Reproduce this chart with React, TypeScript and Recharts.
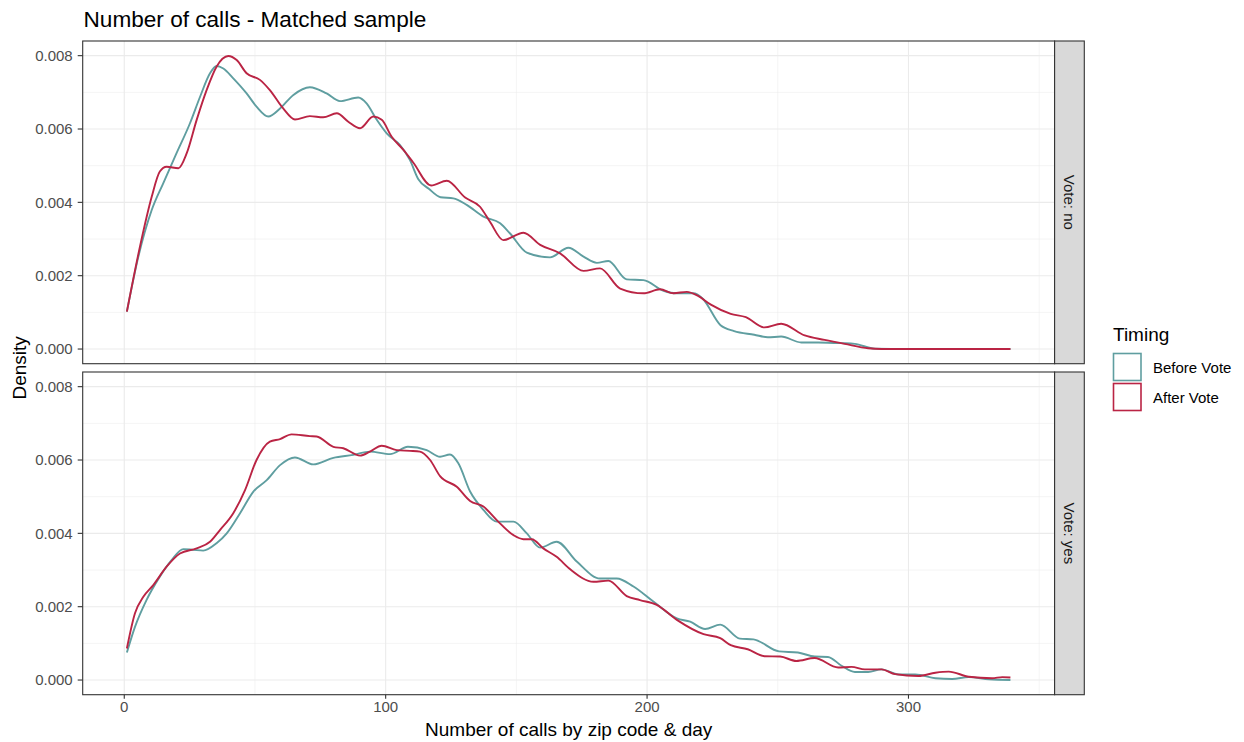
import React from "react";
import { LineChart, Line, XAxis, YAxis, CartesianGrid } from "recharts";

// ---------- data ----------
const xTicks = [0, 100, 200, 300];
const xMinor = [50, 150, 250, 350];
const yTicks = [0, 0.002, 0.004, 0.006, 0.008];
const yMinor = [0.001, 0.003, 0.005, 0.007];
const facetLabels = ["Vote: no", "Vote: yes"];
const seriesNames = ["Before Vote", "After Vote"];

const noBefore: [number, number][] = [
  [1, 0.00102], [5.4, 0.00252], [10.5, 0.00379], [14.9, 0.00452], [20, 0.00534], [25.1, 0.00615],
  [29, 0.00688], [32.8, 0.00752], [35.3, 0.00772], [37.9, 0.00765], [41.7, 0.00738], [46.8, 0.00697],
  [50.6, 0.00661], [55.1, 0.00634], [59.6, 0.00656], [64.7, 0.00693], [71, 0.00714], [77.4, 0.00697],
  [82.5, 0.00676], [89.5, 0.00686], [92.7, 0.0067], [96.6, 0.00625], [100.4, 0.00588], [105.5, 0.00556],
  [109.3, 0.00515], [112.5, 0.00463], [116.5, 0.00437], [121, 0.00414], [125.9, 0.00411], [131, 0.00393],
  [137.4, 0.00361], [143.8, 0.00343], [147.6, 0.00315], [154, 0.00263], [162.9, 0.0025], [169.9, 0.00276],
  [175.7, 0.00252], [180.8, 0.00235], [185.2, 0.0024], [192.2, 0.0019], [198.6, 0.00188], [206.3, 0.00159],
  [211.4, 0.00152], [217.7, 0.00152], [221.2, 0.00138], [228.1, 0.00065], [233.3, 0.00049], [241, 0.00039],
  [246.2, 0.00032], [251.3, 0.00034], [259, 0.00018], [265.4, 0.00018], [274.4, 0.00016], [279.5, 0.00014],
  [287.2, 0.00001], [300, 0], [320, 0], [339, 0],
];

const noAfter: [number, number][] = [
  [1, 0.00102], [6, 0.00279], [10.5, 0.00415], [13.6, 0.00484], [16.2, 0.00497], [20.7, 0.00493],
  [23.9, 0.00534], [27.7, 0.00625], [31.5, 0.00706], [35.3, 0.0077], [39.8, 0.00799], [43, 0.00788],
  [46.8, 0.00752], [51.9, 0.00734], [55.7, 0.00706], [60.8, 0.00656], [65.3, 0.00626], [71, 0.00635],
  [76.1, 0.00632], [81.3, 0.00643], [85.7, 0.0062], [90.2, 0.00602], [95.3, 0.00634], [98.5, 0.00625],
  [102.3, 0.00579], [106.8, 0.00543], [110.6, 0.00508], [117.4, 0.00446], [123.4, 0.00459], [130.4, 0.00413],
  [136.1, 0.00388], [139.9, 0.00347], [145, 0.00297], [152.7, 0.00317], [159.1, 0.00284], [166.7, 0.00261],
  [175.7, 0.00213], [182, 0.0022], [189.7, 0.00165], [198.6, 0.00152], [205, 0.00163], [210.1, 0.00152],
  [215.2, 0.00156], [219.5, 0.00145], [224.4, 0.00121], [232, 0.00096], [237.8, 0.00087], [244.9, 0.00059],
  [251.3, 0.00069], [260.3, 0.00037], [267.9, 0.00025], [275.6, 0.00014], [284.6, 0.00002], [289.7, 0],
  [310, 0], [339, 0],
];

const yesBefore: [number, number][] = [
  [1, 0.00075], [4.1, 0.00145], [8.5, 0.00218], [13.6, 0.00282], [18.1, 0.00327], [22.6, 0.00357],
  [26.4, 0.00355], [30.2, 0.00353], [35.3, 0.00373], [39.2, 0.004], [44.3, 0.00455], [49.4, 0.00514],
  [54.5, 0.00545], [59.6, 0.00586], [65.3, 0.00607], [72.3, 0.00588], [80, 0.00606], [87.6, 0.00614],
  [94, 0.00623], [101.7, 0.00616], [108.5, 0.00636], [115.7, 0.00627], [120.8, 0.00609], [124.6, 0.00615],
  [127.8, 0.00591], [132.3, 0.00514], [137.4, 0.00464], [142.5, 0.00432], [148.9, 0.00432], [154, 0.004],
  [159.1, 0.00361], [165.4, 0.00377], [173.1, 0.00323], [182, 0.00277], [188.4, 0.00277], [194.8, 0.00255],
  [202.4, 0.00214], [211.4, 0.00168], [216.5, 0.00159], [222.2, 0.00139], [228, 0.00151], [235.5, 0.00113],
  [240.7, 0.00111], [250.5, 0.00078], [257.7, 0.00075], [264.1, 0.00064], [269.2, 0.00063], [274.4, 0.00039],
  [279.5, 0.00022], [284.6, 0.00022], [289.7, 0.00029], [296.2, 0.00015], [302.6, 0.00015], [310.3, 0.00005],
  [316.7, 0.00003], [323.1, 0.00008], [330.8, 0.00002], [339, 0],
];

const yesAfter: [number, number][] = [
  [1, 0.00086], [4.1, 0.00182], [7.3, 0.00227], [11.1, 0.00259], [16.2, 0.00309], [21.3, 0.00345],
  [27.7, 0.00359], [32.8, 0.00377], [36.6, 0.00409], [41.7, 0.00455], [46.2, 0.00518], [50.6, 0.006],
  [55.7, 0.0065], [59.6, 0.00657], [64, 0.0067], [71, 0.00665], [73.6, 0.00664], [80, 0.00636],
  [83.8, 0.00632], [90.2, 0.00612], [94, 0.00623], [98.5, 0.00639], [104.2, 0.00627], [109.3, 0.00625],
  [113.1, 0.00623], [117, 0.006], [120.8, 0.00556], [127.2, 0.00527], [132.3, 0.00488], [137.4, 0.00473],
  [142.5, 0.00436], [148.9, 0.00395], [152.7, 0.00384], [155.9, 0.00384], [160.3, 0.00359], [165.4, 0.00336],
  [170.6, 0.00302], [179.5, 0.00268], [185.2, 0.00271], [192.2, 0.00229], [197.3, 0.00218], [203.7, 0.00205],
  [211.4, 0.00164], [221.6, 0.00125], [228, 0.00114], [232, 0.00095], [238.5, 0.00084], [244.9, 0.00065],
  [250.9, 0.00064], [257.1, 0.00052], [264.1, 0.0006], [273.1, 0.00034], [278.2, 0.00036], [283.3, 0.00029],
  [289.7, 0.00029], [294.9, 0.00016], [303.8, 0.00011], [310.3, 0.0002], [315.4, 0.00023], [323.1, 0.00009],
  [332, 0.00005], [335.9, 0.00008], [339, 0.00007],
];

// ---------- style / layout ----------
const W = 1244;
const H = 742;
const FONT = "'Liberation Sans', Arial, Helvetica, sans-serif";
const TEAL = "#5F9EA0";
const RED = "#BA2444";
const PL = 82.7;
const PR = 1054.6;
const PH = 322.7;
const TOPS = [41, 372];
const STRIP_W = 29.7;
const YW = 60;
const XH = 40;
const X_DOMAIN: [number, number] = [-15.9, 355.9];
const Y_DOMAIN: [number, number] = [-0.0004, 0.0084];

const toPts = (arr: [number, number][]) => arr.map(([x, y]) => ({ x, y }));

function Panel({ top, before, after, showX }: { top: number; before: [number, number][]; after: [number, number][]; showX: boolean }) {
  const bottom = H - (top + PH) - (showX ? XH : 0);
  return (
    <div style={{ position: "absolute", left: 0, top: 0 }}>
      <LineChart
        width={W}
        height={H}
        margin={{ top, left: PL - YW, right: W - PR, bottom }}
      >
        <CartesianGrid
          stroke="#EBEBEB"
          strokeWidth={0.55}
          verticalValues={xMinor}
          horizontalValues={yMinor}
        />
        <CartesianGrid
          stroke="#EBEBEB"
          strokeWidth={1.1}
          verticalValues={xTicks}
          horizontalValues={yTicks}
        />
        <XAxis
          dataKey="x"
          type="number"
          domain={X_DOMAIN}
          allowDataOverflow
          ticks={xTicks}
          hide={!showX}
          height={XH}
          axisLine={false}
          tickLine={{ stroke: "#333333", strokeWidth: 1.1 }}
          tickSize={4}
          tickMargin={3}
          tick={{ fill: "#4D4D4D", fontSize: 15, fontFamily: FONT }}
          interval={0}
        />
        <YAxis
          dataKey="y"
          type="number"
          domain={Y_DOMAIN}
          allowDataOverflow
          ticks={yTicks}
          width={YW}
          axisLine={false}
          tickLine={{ stroke: "#333333", strokeWidth: 1.1 }}
          tickSize={5}
          tickMargin={5}
          tick={{ fill: "#4D4D4D", fontSize: 15, fontFamily: FONT }}
          tickFormatter={(v: number) => v.toFixed(3)}
          interval={0}
        />
        <Line
          data={toPts(before)}
          dataKey="y"
          name={seriesNames[0]}
          type="monotone"
          stroke={TEAL}
          strokeWidth={1.9}
          dot={false}
          activeDot={false}
          isAnimationActive={false}
        />
        <Line
          data={toPts(after)}
          dataKey="y"
          name={seriesNames[1]}
          type="monotone"
          stroke={RED}
          strokeWidth={1.9}
          dot={false}
          activeDot={false}
          isAnimationActive={false}
        />
      </LineChart>
    </div>
  );
}

export default function App() {
  return (
    <div style={{ position: "absolute", left: 0, top: 0, width: W, height: H, background: "#FFFFFF", fontFamily: FONT }}>
      <Panel top={TOPS[0]} before={noBefore} after={noAfter} showX={false} />
      <Panel top={TOPS[1]} before={yesBefore} after={yesAfter} showX={true} />
      <svg
        width={W}
        height={H}
        style={{ position: "absolute", left: 0, top: 0, pointerEvents: "none" }}
      >
        {TOPS.map((t, i) => (
          <g key={i}>
            <rect x={PL} y={t} width={PR - PL} height={PH} fill="none" stroke="#333333" strokeWidth={1.1} />
            <rect x={PR} y={t} width={STRIP_W} height={PH} fill="#D9D9D9" stroke="#333333" strokeWidth={1.1} />
            <text
              x={PR + STRIP_W / 2}
              y={t + PH / 2}
              transform={`rotate(90 ${PR + STRIP_W / 2} ${t + PH / 2})`}
              textAnchor="middle"
              dominantBaseline="central"
              fontSize={15}
              fill="#1A1A1A"
              fontFamily={FONT}
            >
              {facetLabels[i]}
            </text>
          </g>
        ))}
        <text x={83.5} y={27} fontSize={22.6} fill="#000000" fontFamily={FONT}>
          Number of calls - Matched sample
        </text>
        <text x={(PL + PR) / 2} y={736} textAnchor="middle" fontSize={19} fill="#000000" fontFamily={FONT}>
          Number of calls by zip code &amp; day
        </text>
        <text
          x={26}
          y={(TOPS[0] + TOPS[1] + PH) / 2}
          transform={`rotate(-90 26 ${(TOPS[0] + TOPS[1] + PH) / 2})`}
          textAnchor="middle"
          fontSize={19}
          fill="#000000"
          fontFamily={FONT}
        >
          Density
        </text>
        <text x={1113} y={341} fontSize={19} fill="#000000" fontFamily={FONT}>
          Timing
        </text>
        <rect x={1113.5} y={353.5} width={27.5} height={27} fill="#FFFFFF" stroke={TEAL} strokeWidth={1.6} />
        <rect x={1113.5} y={383.5} width={27.5} height={27} fill="#FFFFFF" stroke={RED} strokeWidth={1.6} />
        <text x={1153} y={372.5} fontSize={15} fill="#000000" fontFamily={FONT}>
          {seriesNames[0]}
        </text>
        <text x={1153} y={402.5} fontSize={15} fill="#000000" fontFamily={FONT}>
          {seriesNames[1]}
        </text>
      </svg>
    </div>
  );
}
